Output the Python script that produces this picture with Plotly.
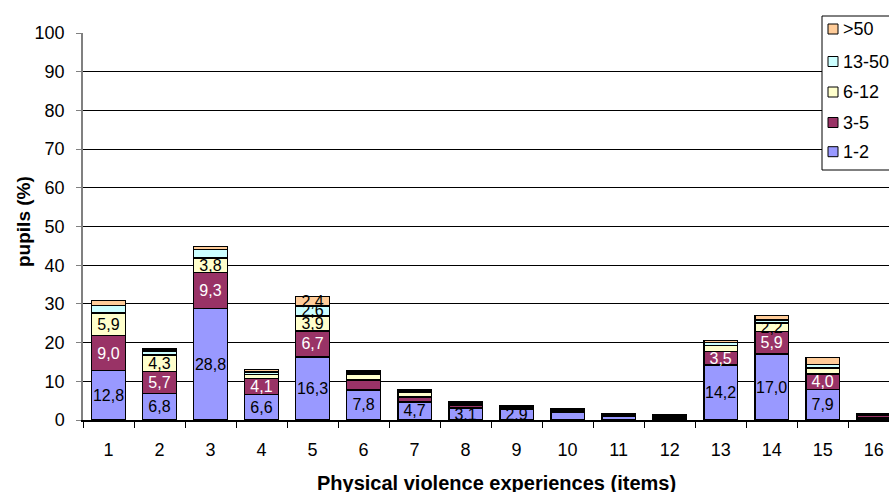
import plotly.graph_objects as go

# Items of physical violence experienced (x categories)
items = [str(i) for i in range(1, 17)]

# Share of pupils (%) per frequency band, stacked from bottom to top
freq_1_2 = [12.8, 6.8, 28.8, 6.6, 16.3, 7.8, 4.7, 3.1, 2.9, 1.9, 1.0, 0.4, 14.2, 17.0, 7.9, 0.5]
freq_3_5 = [9.0, 5.7, 9.3, 4.1, 6.7, 2.6, 1.2, 0.6, 0.3, 0.4, 0.3, 0.4, 3.5, 5.9, 4.0, 0.6]
freq_6_12 = [5.9, 4.3, 3.8, 1.0, 3.9, 1.5, 1.3, 0.4, 0.2, 0.2, 0.2, 0.2, 1.5, 2.2, 1.5, 0.2]
freq_13_50 = [1.9, 1.0, 2.1, 0.7, 2.6, 0.5, 0.4, 0.3, 0.1, 0.2, 0.1, 0.2, 0.8, 0.8, 1.0, 0.2]
freq_50 = [1.3, 0.5, 0.8, 0.7, 2.4, 0.4, 0.3, 0.3, 0.1, 0.1, 0.1, 0.1, 0.5, 1.1, 1.7, 0.2]

# Which segments carry a value label
label_1_2 = [1, 1, 1, 1, 1, 1, 1, 1, 1, 0, 0, 0, 1, 1, 1, 0]
label_3_5 = [1, 1, 1, 1, 1, 0, 0, 0, 0, 0, 0, 0, 1, 1, 1, 0]
label_6_12 = [1, 1, 1, 0, 1, 0, 0, 0, 0, 0, 0, 0, 0, 1, 0, 0]
label_13_50 = [0, 0, 0, 0, 1, 0, 0, 0, 0, 0, 0, 0, 0, 0, 0, 0]
label_50 = [0, 0, 0, 0, 1, 0, 0, 0, 0, 0, 0, 0, 0, 0, 0, 0]

names = ["1-2", "3-5", "6-12", "13-50", ">50"]
values = [freq_1_2, freq_3_5, freq_6_12, freq_13_50, freq_50]
labels = [label_1_2, label_3_5, label_6_12, label_13_50, label_50]
colors = ["#9999FF", "#993366", "#FFFFCC", "#CCFFFF", "#FFCC99"]
text_colors = ["black", "white", "black", "black", "black"]

y_ticks = list(range(0, 101, 10))

FONT = "Liberation Sans, Arial, sans-serif"

# Plot-area geometry in pixels (used to place the legend box and titles)
L, T, W, H = 83, 33, 806, 387


def px_x(px):
    return (px - L) / W


def px_y(py):
    return (T + H - py) / H


fig = go.Figure()
for name, vals, marks, col, tcol in zip(names, values, labels, colors, text_colors):
    txt = [f"{v:.1f}".replace(".", ",") if m else "" for v, m in zip(vals, marks)]
    fig.add_trace(go.Bar(
        x=items, y=vals, name=name,
        marker=dict(color=col, line=dict(color="black", width=1.5)),
        text=txt, textposition="inside", insidetextanchor="middle",
        textangle=0, constraintext="none",
        insidetextfont=dict(family=FONT, size=16, color=tcol),
        showlegend=False, hoverinfo="skip",
    ))

# Legend box (drawn by hand so it can run off the right edge)
shapes = [dict(type="rect", xref="paper", yref="paper",
               x0=px_x(822), x1=px_x(930), y0=px_y(170), y1=px_y(16),
               line=dict(color="black", width=1), fillcolor="white", layer="above")]
annotations = []
legend_rows = [151.7, 122.5, 92.0, 61.5, 29.0]  # centre of each row, bottom series first
for name, col, cy in zip(names, colors, legend_rows):
    shapes.append(dict(type="rect", xref="paper", yref="paper",
                       x0=px_x(828), x1=px_x(838), y0=px_y(cy + 5), y1=px_y(cy - 5),
                       line=dict(color="black", width=1), fillcolor=col, layer="above"))
    annotations.append(dict(xref="paper", yref="paper", x=px_x(841), y=px_y(cy),
                            xanchor="left", yanchor="middle", showarrow=False,
                            text=name, font=dict(family=FONT, size=18, color="black")))

# Axis titles
annotations.append(dict(xref="paper", yref="paper", x=px_x(23), y=px_y(222),
                        xanchor="center", yanchor="middle", showarrow=False, textangle=-90,
                        text="<b>pupils (%)</b>", font=dict(family=FONT, size=19, color="black")))
annotations.append(dict(xref="paper", yref="paper", x=px_x(496), y=px_y(483),
                        xanchor="center", yanchor="middle", showarrow=False,
                        text="<b>Physical violence experiences (items)</b>",
                        font=dict(family=FONT, size=20, color="black")))

fig.update_layout(
    width=889, height=492,
    margin=dict(l=L, r=889 - L - W, t=T, b=492 - T - H, autoexpand=False),
    barmode="stack", bargap=0.34,
    plot_bgcolor="white", paper_bgcolor="white",
    font=dict(family=FONT, size=18, color="black"),
    shapes=shapes, annotations=annotations,
)
fig.update_xaxes(
    type="category", range=[-0.5, 15.3],
    showline=True, linecolor="black", linewidth=1.5,
    ticks="outside", tickson="boundaries", ticklen=6, tickcolor="black",
    ticklabelstandoff=13,
    showgrid=False, tickfont=dict(family=FONT, size=18),
)
fig.update_yaxes(
    range=[0, 100], tickvals=y_ticks,
    showline=True, linecolor="#808080", linewidth=1.5,
    ticks="outside", ticklen=5, tickcolor="#808080",
    ticklabelstandoff=8,
    showgrid=True, gridcolor="black", gridwidth=1,
    zeroline=False, tickfont=dict(family=FONT, size=18),
)

fig.write_html("out.html")
